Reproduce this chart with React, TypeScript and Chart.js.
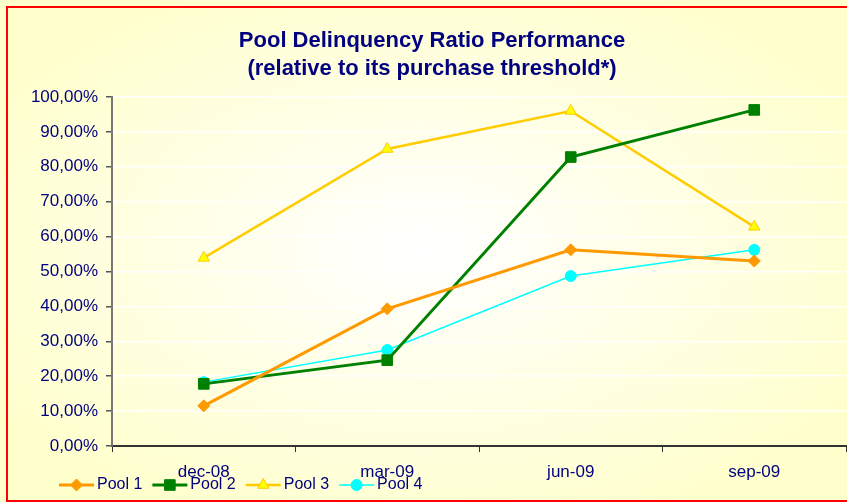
import React, { useEffect, useRef } from "react";
import { Chart, registerables } from "chart.js";
import { drawPoint } from "chart.js/helpers";

Chart.register(...registerables);

const categories = ["dec-08", "mar-09", "jun-09", "sep-09"];
const pool1 = [11.5, 39.3, 56.2, 53.0];
const pool2 = [17.8, 24.6, 82.8, 96.3];
const pool3 = [53.9, 85.1, 96.0, 62.8];
const pool4 = [18.3, 27.5, 48.7, 56.2];
const titleLines = ["Pool Delinquency Ratio Performance", "(relative to its purchase threshold*)"];

const NAVY = "#000080";
const FONT = "'Liberation Sans', Arial, sans-serif";

const bgPlugin = {
  id: "bg",
  beforeDraw(chart: any) {
    const ctx = chart.ctx;
    const w = chart.width, h = chart.height;
    ctx.save();
    ctx.translate(w / 2, h / 2);
    ctx.scale(1, h / w);
    const r = w * 0.6;
    const g = ctx.createRadialGradient(0, 0, 0, 0, 0, r);
    g.addColorStop(0, "#FFFFFF");
    g.addColorStop(1, "#FFFFCC");
    ctx.fillStyle = g;
    ctx.fillRect(-w, -w, 2 * w, 2 * w);
    ctx.restore();
    ctx.save();
    ctx.strokeStyle = "#FF0000";
    ctx.lineWidth = 2;
    ctx.strokeRect(7, 7, w + 10, h - 8);
    ctx.fillStyle = NAVY;
    ctx.font = `bold 22px ${FONT}`;
    ctx.textAlign = "center";
    ctx.textBaseline = "middle";
    ctx.fillText(titleLines[0], 432, 41);
    ctx.fillText(titleLines[1], 432, 69);
    ctx.restore();
  },
};

const legendPlugin = {
  id: "customLegend",
  afterDraw(chart: any) {
    const ctx = chart.ctx;
    ctx.save();
    ctx.font = `16px ${FONT}`;
    ctx.textBaseline = "middle";
    ctx.textAlign = "left";
    let x = 59;
    const y = 485;
    chart.data.datasets.forEach((ds: any) => {
      const lineLen = 35;
      ctx.strokeStyle = ds.borderColor;
      ctx.lineWidth = ds.borderWidth;
      ctx.beginPath();
      ctx.moveTo(x, y);
      ctx.lineTo(x + lineLen, y);
      ctx.stroke();
      ctx.fillStyle = ds.pointBackgroundColor;
      ctx.strokeStyle = ds.pointBorderColor;
      ctx.lineWidth = ds.pointBorderWidth;
      drawPoint(ctx, { pointStyle: ds.pointStyle, radius: ds.pointRadius, rotation: 0, borderWidth: ds.pointBorderWidth }, x + lineLen / 2, y);
      ctx.fillStyle = NAVY;
      const tx = x + lineLen + 3;
      ctx.fillText(ds.label, tx, y);
      x = tx + ctx.measureText(ds.label).width + 10;
    });
    ctx.restore();
  },
};

export default function App() {
  const ref = useRef<HTMLCanvasElement>(null);
  useEffect(() => {
    document.body.style.margin = "0";
    const chart = new Chart(ref.current as HTMLCanvasElement, {
      type: "line",
      data: {
        labels: categories,
        datasets: [
          {
            label: "Pool 1",
            data: pool1,
            borderColor: "#FF9900",
            borderWidth: 3,
            pointStyle: "rectRot",
            pointRadius: 6,
            pointBackgroundColor: "#FF9900",
            pointBorderColor: "#FF9900",
            pointBorderWidth: 1,
          },
          {
            label: "Pool 2",
            data: pool2,
            borderColor: "#008000",
            borderWidth: 3,
            pointStyle: "rect",
            pointRadius: 7.5,
            pointBackgroundColor: "#008000",
            pointBorderColor: "#008000",
            pointBorderWidth: 1,
          },
          {
            label: "Pool 3",
            data: pool3,
            borderColor: "#FFCC00",
            borderWidth: 2.5,
            pointStyle: "triangle",
            pointRadius: 6.5,
            pointBackgroundColor: "#FFFF00",
            pointBorderColor: "#FFCC00",
            pointBorderWidth: 1,
          },
          {
            label: "Pool 4",
            data: pool4,
            borderColor: "#00FFFF",
            borderWidth: 1.5,
            pointStyle: "circle",
            pointRadius: 5.5,
            pointBackgroundColor: "#00FFFF",
            pointBorderColor: "#00FFFF",
            pointBorderWidth: 1,
          },
        ],
      },
      options: {
        responsive: false,
        animation: false,
        layout: { autoPadding: false, padding: { top: 97, right: 1, bottom: 0, left: 0 } },
        plugins: { legend: { display: false }, title: { display: false }, tooltip: { enabled: false } },
        scales: {
          x: {
            offset: true,
            afterFit: (s: any) => { s.height = 56; },
            grid: { offset: true, drawOnChartArea: false, tickColor: "#333333", tickLength: 6, lineWidth: 1 },
            border: { display: true, color: "#333333", width: 2 },
            ticks: { color: NAVY, font: { family: FONT, size: 17 }, padding: 10, maxRotation: 0 },
          },
          y: {
            min: 0,
            max: 100,
            afterFit: (s: any) => { s.width = 112; },
            grid: { color: "#FFFFFF", lineWidth: 1.5, tickColor: "#555555", tickLength: 6 },
            border: { display: true, color: "#777777", width: 2 },
            ticks: {
              stepSize: 10,
              color: NAVY,
              padding: 8,
              font: { family: FONT, size: 17 },
              callback: (v: any) => Number(v).toFixed(2).replace(".", ",") + "%",
            },
          },
        },
      },
      plugins: [bgPlugin, legendPlugin],
    });
    return () => chart.destroy();
  }, []);
  return (
    <div style={{ width: 847, height: 502 }}>
      <canvas ref={ref} width={847} height={502} />
    </div>
  );
}
